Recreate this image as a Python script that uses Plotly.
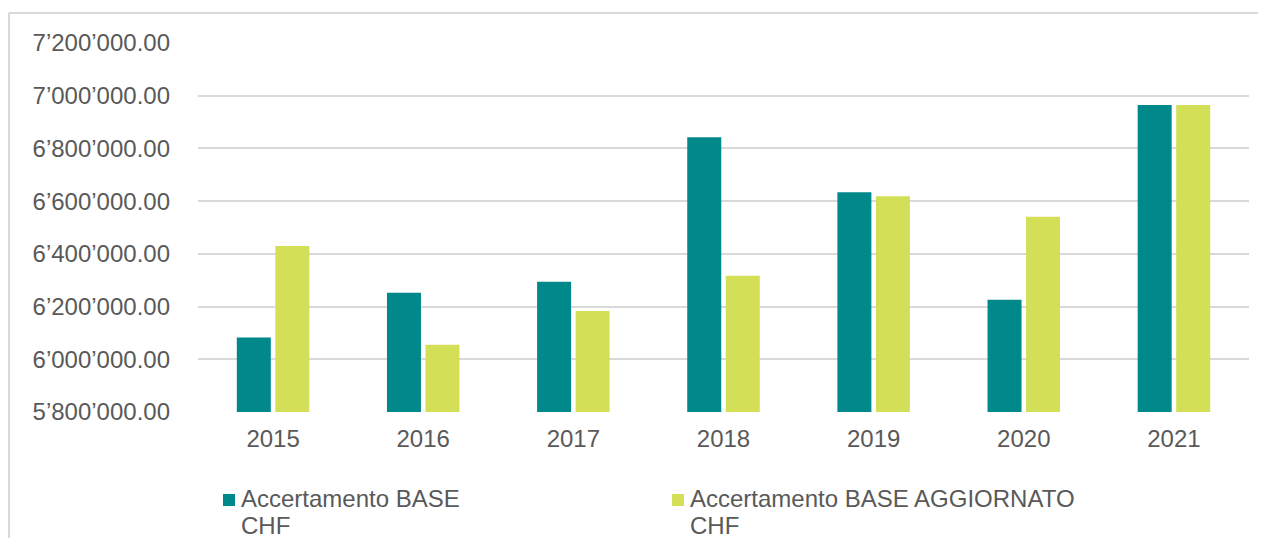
import plotly.graph_objects as go

years = ["2015", "2016", "2017", "2018", "2019", "2020", "2021"]
base_chf = [6083000, 6252000, 6294000, 6842000, 6634000, 6226000, 6965000]
base_aggiornato_chf = [6430000, 6055000, 6183000, 6317000, 6619000, 6541000, 6965000]
series_names = ["Accertamento BASE CHF", "Accertamento BASE AGGIORNATO CHF"]
legend_lines = [["Accertamento BASE", "CHF"], ["Accertamento BASE AGGIORNATO", "CHF"]]
y_ticks = [5800000, 6000000, 6200000, 6400000, 6600000, 6800000, 7000000, 7200000]

TEAL = "#00888B"
LIME = "#D4DF58"
TXT = "#595959"
GRID = "#D9D9D9"
FONT = "Liberation Sans, Arial, sans-serif"
COLORS = [TEAL, LIME]

# page body adds an 8px margin, so the figure is 1250x530 inside the 1266x546 window
W, H = 1250, 530
L, T, R, B = 190, 35, 9, 126
PW = W - L - R
PH = H - T - B


def px(x):
    return (x - L) / PW


def py(y):
    return (H - B - y) / PH


fig = go.Figure()
fig.add_trace(go.Bar(x=years, y=base_chf, name=series_names[0], marker_color=TEAL,
                     marker_line_width=0))
fig.add_trace(go.Bar(x=years, y=base_aggiornato_chf, name=series_names[1], marker_color=LIME,
                     marker_line_width=0))

# outer chart-area border (only left and top edges are visible in the reference)
shapes = [
    dict(type="line", xref="paper", yref="paper", x0=px(1), x1=px(1300), y0=py(5), y1=py(5),
         line=dict(color=GRID, width=2), layer="below"),
    dict(type="line", xref="paper", yref="paper", x0=px(1), x1=px(1), y0=py(5), y1=py(600),
         line=dict(color=GRID, width=2), layer="below"),
]
annotations = []
legend_x = [215, 664]
line_tops = [476, 502.5]
for i, lines in enumerate(legend_lines):
    x0 = legend_x[i]
    shapes.append(dict(type="rect", xref="paper", yref="paper",
                       x0=px(x0), x1=px(x0 + 12), y0=py(498), y1=py(486),
                       line=dict(width=0), fillcolor=COLORS[i]))
    for j, txt in enumerate(lines):
        annotations.append(dict(xref="paper", yref="paper", x=px(x0 + 17), y=py(line_tops[j]),
                                xanchor="left", yanchor="top", align="left", showarrow=False,
                                borderpad=0, text=txt,
                                font=dict(family=FONT, size=24, color=TXT)))

fig.update_layout(
    width=W, height=H,
    margin=dict(l=L, r=R, t=T, b=B),
    paper_bgcolor="white", plot_bgcolor="white",
    barmode="group", bargap=0.487, bargroupgap=0.117,
    separators=".’",
    showlegend=False,
    font=dict(family=FONT, size=24, color=TXT),
    xaxis=dict(showgrid=False, showline=False, ticks="", ticklabelstandoff=10,
               tickfont=dict(size=24, color=TXT)),
    yaxis=dict(range=[5800000, 7200000], tickvals=y_ticks, tickformat=",.2f",
               showgrid=True, gridcolor=GRID, gridwidth=1.5, zeroline=False,
               showline=False, ticks="", ticklabelstandoff=27,
               tickfont=dict(size=24, color=TXT)),
    shapes=shapes,
    annotations=annotations,
)

fig.write_html("out.html")
